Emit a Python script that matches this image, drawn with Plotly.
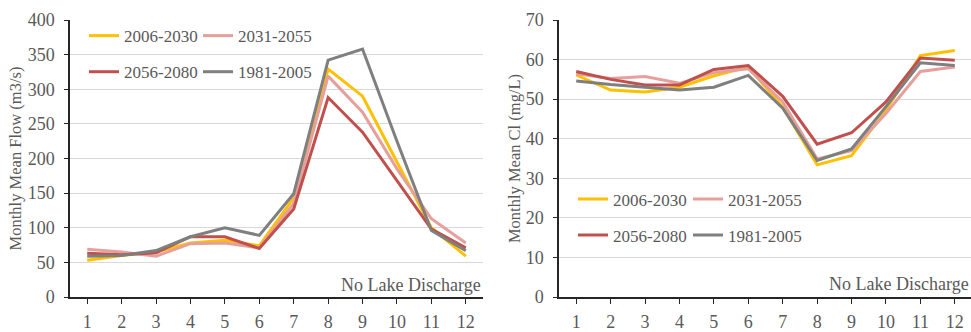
import plotly.graph_objects as go

months = list(range(1, 13))
series_names = ["2006-2030", "2031-2055", "2056-2080", "1981-2005"]
colors = ["#FFC000", "#E6A09B", "#C0504D", "#7F7F7F"]

flow_2006_2030 = [53, 60, 65, 78, 82, 74, 143, 329, 290, 195, 100, 59]
flow_2031_2055 = [69, 65, 59, 77, 78, 71, 135, 319, 267, 185, 113, 78]
flow_2056_2080 = [63, 61, 64, 87, 87, 70, 127, 288, 238, 168, 98, 71]
flow_1981_2005 = [59, 60, 67, 87, 100, 89, 149, 342, 358, 225, 96, 67]

cl_2006_2030 = [56.1, 52.3, 51.8, 53.0, 55.9, 58.1, 48.0, 33.4, 35.7, 47.2, 61.0, 62.3]
cl_2031_2055 = [56.4, 55.2, 55.7, 54.0, 56.7, 57.7, 49.3, 34.9, 37.0, 46.4, 57.0, 58.1]
cl_2056_2080 = [57.0, 55.0, 53.6, 53.6, 57.5, 58.5, 50.7, 38.6, 41.5, 49.3, 60.4, 59.8]
cl_1981_2005 = [54.6, 53.7, 53.0, 52.3, 53.0, 56.0, 47.7, 34.5, 37.4, 48.1, 59.2, 58.5]

flow_series = [flow_2006_2030, flow_2031_2055, flow_2056_2080, flow_1981_2005]
cl_series = [cl_2006_2030, cl_2031_2055, cl_2056_2080, cl_1981_2005]

FONT = "Liberation Serif"
TXT = "#595959"
W, H = 971, 332

fig = go.Figure()

left_legends = ["legend", "legend2", "legend", "legend2"]
right_legends = ["legend3", "legend4", "legend3", "legend4"]

for i, (name, col) in enumerate(zip(series_names, colors)):
    fig.add_trace(go.Scatter(x=months, y=flow_series[i], mode="lines", name=name,
                             line=dict(color=col, width=3), xaxis="x", yaxis="y",
                             legend=left_legends[i], legendgroup="L" + name))
for i, (name, col) in enumerate(zip(series_names, colors)):
    fig.add_trace(go.Scatter(x=months, y=cl_series[i], mode="lines", name=name,
                             line=dict(color=col, width=3), xaxis="x2", yaxis="y2",
                             legend=right_legends[i], legendgroup="R" + name))

t_m, b_m = 20, 27
ph = H - t_m - b_m

def px_x(p):
    return p / W

def px_y(p):
    return (H - b_m - p) / ph

xl0, xl1 = 70, 483
xr0, xr1 = 559, 971
unit = (xl1 - xl0) / 12.0
xr_end = 0.5 + (xr1 - xr0) / unit

axis_common = dict(showline=True, linecolor="#262626", linewidth=1.5,
                   tickfont=dict(family=FONT, size=18, color=TXT),
                   zeroline=False)

fig.update_layout(
    width=W, height=H,
    margin=dict(l=0, r=0, t=t_m, b=b_m),
    paper_bgcolor="white", plot_bgcolor="white",
    font=dict(family=FONT, size=17, color=TXT),
    xaxis=dict(domain=[px_x(xl0), px_x(xl1)], range=[0.5, 12.5], tickvals=months,
               ticks="outside", ticklen=5, tickcolor="#262626", tickson="boundaries",
               showgrid=False, anchor="y", ticklabelstandoff=3, **axis_common),
    yaxis=dict(domain=[0, 1], range=[0, 400], dtick=50, ticks="outside", ticklen=4,
               tickcolor="#262626", showgrid=True, gridcolor="#D9D9D9", gridwidth=1,
               anchor="x", ticklabelstandoff=6,
               title=dict(text="Monthly Mean Flow (m3/s)", standoff=2,
                          font=dict(family=FONT, size=16.5, color=TXT)),
               **axis_common),
    yaxis3=dict(overlaying="y", anchor="x", range=[0, 400], dtick=50, ticks="inside",
                ticklen=4, tickcolor="#262626", showgrid=False, showticklabels=False,
                showline=False, zeroline=False),
    xaxis2=dict(domain=[px_x(xr0), px_x(xr1)], range=[0.5, xr_end], tickvals=months,
                ticks="outside", ticklen=5, tickcolor="#262626", tickson="boundaries",
                showgrid=False, anchor="y2", ticklabelstandoff=3, **axis_common),
    yaxis2=dict(domain=[0, 1], range=[0, 70], dtick=10, ticks="outside", ticklen=4,
                tickcolor="#262626", showgrid=True, gridcolor="#D9D9D9", gridwidth=1,
                anchor="x2", ticklabelstandoff=6,
                title=dict(text="Monthly Mean Cl (mg/L)", standoff=1,
                           font=dict(family=FONT, size=16.5, color=TXT)),
                **axis_common),
    yaxis4=dict(overlaying="y2", anchor="x2", range=[0, 70], dtick=10, ticks="inside",
                ticklen=4, tickcolor="#262626", showgrid=False, showticklabels=False,
                showline=False, zeroline=False),
)

leg_common = dict(orientation="v", traceorder="grouped", tracegroupgap=11,
                  bgcolor="rgba(0,0,0,0)", font=dict(family=FONT, size=17, color=TXT),
                  xanchor="left", yanchor="top", itemwidth=30)
fig.update_layout(
    legend=dict(x=px_x(84), y=px_y(18), **leg_common),
    legend2=dict(x=px_x(198), y=px_y(18), **leg_common),
    legend3=dict(x=px_x(573), y=px_y(186), **leg_common),
    legend4=dict(x=px_x(688), y=px_y(186), **leg_common),
)

fig.add_annotation(text="No Lake Discharge", xref="x", yref="y", x=12.5, y=18,
                   xanchor="right", yanchor="middle", showarrow=False,
                   font=dict(family=FONT, size=18, color=TXT))
fig.add_annotation(text="No Lake Discharge", xref="x2", yref="y2", x=xr_end, y=3.2,
                   xanchor="right", yanchor="middle", showarrow=False,
                   font=dict(family=FONT, size=18, color=TXT))

fig.write_html("out.html")
